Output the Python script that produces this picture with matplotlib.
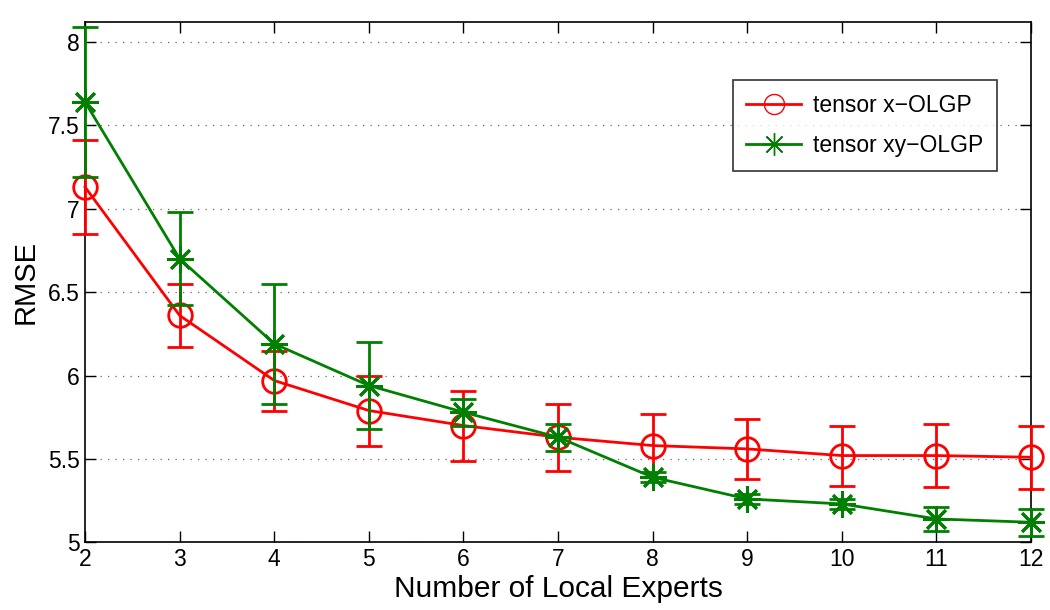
import matplotlib
matplotlib.use("Agg")
import matplotlib.pyplot as plt

plt.rcParams["font.family"] = ["Liberation Sans", "DejaVu Sans"]

experts = [2, 3, 4, 5, 6, 7, 8, 9, 10, 11, 12]

# tensor x-OLGP
x_rmse = [7.13, 6.36, 5.97, 5.79, 5.70, 5.63, 5.58, 5.56, 5.52, 5.52, 5.51]
x_err = [0.28, 0.19, 0.18, 0.21, 0.21, 0.20, 0.19, 0.18, 0.18, 0.19, 0.19]

# tensor xy-OLGP
xy_rmse = [7.64, 6.70, 6.19, 5.94, 5.78, 5.63, 5.39, 5.26, 5.23, 5.14, 5.12]
xy_err = [0.45, 0.28, 0.36, 0.26, 0.08, 0.08, 0.03, 0.03, 0.03, 0.07, 0.08]

yticks = [5, 5.5, 6, 6.5, 7, 7.5, 8]
ytick_labels = ["5", "5.5", "6", "6.5", "7", "7.5", "8"]

fig = plt.figure(figsize=(10.5, 6.1), dpi=100)
ax = fig.add_axes([0.081, 0.111, 0.901, 0.853])

red = "#ff0000"
green = "#008000"

ax.errorbar(experts, x_rmse, yerr=x_err, color=red, lw=2, elinewidth=2,
            capsize=9.5, capthick=2, marker="o", ms=17, mfc="none", mec=red,
            mew=2, label="tensor x\u2212OLGP", zorder=3, clip_on=False)
ax.errorbar(experts, xy_rmse, yerr=xy_err, color=green, lw=2, elinewidth=2,
            capsize=9.5, capthick=2, marker=(8, 2, 0), ms=19, mec=green,
            mew=2, label="tensor xy\u2212OLGP", zorder=4, clip_on=False)

ax.set_xlim(2, 12)
ax.set_ylim(5, 8.12)
ax.set_xticks(experts)
ax.set_yticks(yticks)
ax.set_yticklabels(ytick_labels)
ax.yaxis.grid(True, linestyle=(0, (1, 5)), color="#666666", lw=0.9)
ax.tick_params(direction="in", top=True, right=True, labelsize=16.5, length=8, width=1, pad=4)
for s in ax.spines.values():
    s.set_linewidth(1.2)

ax.set_xlabel("Number of Local Experts", fontsize=21.5, labelpad=3)
ax.set_ylabel("RMSE", fontsize=21, labelpad=6)

handles, labels = ax.get_legend_handles_labels()
handles = [h[0] for h in handles]
leg = ax.legend(handles, labels, loc="upper right", bbox_to_anchor=(0.976, 0.91),
                fontsize=16.5, frameon=True, fancybox=False, edgecolor="black",
                handlelength=2.4, markerscale=0.85, borderpad=0.6,
                labelspacing=0.75, handletextpad=0.5)
leg.get_frame().set_linewidth(1.2)
for ln in leg.get_lines():
    ln.set_markeredgewidth(1.0)

fig.savefig("out.png", dpi=100)
